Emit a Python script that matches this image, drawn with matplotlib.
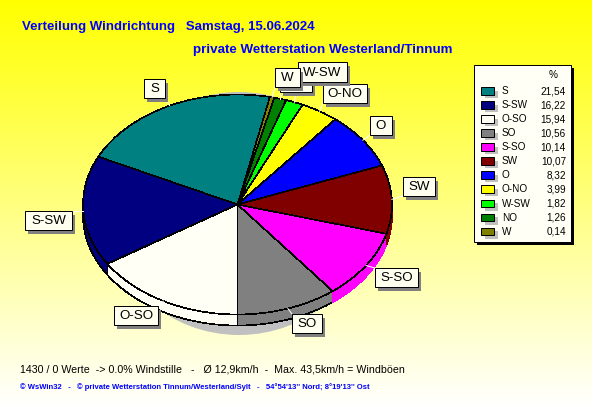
import numpy as np
import matplotlib
matplotlib.use('Agg')
import matplotlib.pyplot as plt
from matplotlib.patches import Rectangle, Ellipse

plt.rcParams['font.family'] = ['Liberation Sans', 'DejaVu Sans']

names = ['S', 'S-SW', 'O-SO', 'SO', 'S-SO', 'SW', 'O', 'O-NO', 'W-SW', 'NO', 'W']
percent = [21.54, 16.22, 15.94, 10.56, 10.14, 10.07, 8.32, 3.99, 1.82, 1.26, 0.14]
percent_text = ['21,54', '16,22', '15,94', '10,56', '10,14', '10,07', '8,32', '3,99', '1,82', '1,26', '0,14']
colors = ['#008080', '#000080', '#FFFFF5', '#808080', '#FF00FF', '#800000',
          '#0000FF', '#FFFF00', '#00FF00', '#008000', '#808000']

title1 = 'Verteilung Windrichtung   Samstag, 15.06.2024'
title2 = 'private Wetterstation Westerland/Tinnum'
info = '1430 / 0 Werte  -> 0.0% Windstille   -   Ø 12,9km/h  -  Max. 43,5km/h = Windböen'
credit = "© WsWin32   -   © private Wetterstation Tinnum/Westerland/Sylt   -   54°54'13'' Nord; 8°19'13'' Ost"

W, H = 592, 407
# pie geometry in pixels
cx, cy, rx, ry, depth = 237.5, 204.5, 154.5, 110, 11
pie_lw = 0.45

# label boxes in pixels (x0, y0, x1, y1), drawn in this order
boxes = {
    'S': (144, 79, 165, 98),
    'S-SW': (25, 211, 72, 230),
    'O-SO': (114, 306, 158, 325),
    'SO': (292, 314, 322, 333),
    'S-SO': (375, 268, 418, 287),
    'SW': (403, 177, 435, 196),
    'O': (370, 116, 392, 135),
    'O-NO': (323, 84, 367, 103),
    'NO': (280, 73, 312, 92),
    'W-SW': (298, 62, 347, 82),
    'W': (275, 68, 300, 87),
}

fig = plt.figure(figsize=(W / 100, H / 100), dpi=100)


def pixel_axes(zorder):
    a = fig.add_axes([0, 0, 1, 1], zorder=zorder)
    a.set_xlim(0, W)
    a.set_ylim(H, 0)
    a.axis('off')
    return a


# background, yellow fading to almost white
bg = pixel_axes(0)
grad = np.ones((H, 1, 3))
grad[:, 0, 2] = np.linspace(0, 1, H)
bg.imshow(grad, extent=(0, W, H, 0), aspect='auto')
bg.set_xlim(0, W)
bg.set_ylim(H, 0)
bg.add_patch(Ellipse((239, 213.5), 260, 243, fc='#C0C0C0', ec='none'))

# pie, squashed by switching off the equal aspect
ax = fig.add_axes([(cx - rx) / W, 1 - (cy + ry + depth) / H, 2 * rx / W, (2 * ry + depth) / H], zorder=1)
wedges, _ = ax.pie(percent, colors=colors, startangle=76.7, counterclock=True, radius=1,
                   wedgeprops={'edgecolor': 'black', 'linewidth': pie_lw, 'antialiased': False, 'zorder': 5})
ax.set_aspect('auto')
ax.set_xlim(-1, 1)
ax.set_ylim(-1 - depth / ry, 1)
ax.axis('off')

# the original draws the tiny W slice wider than its share, so give it a minimum width
wedges[-1].set_theta2(wedges[-1].theta2 + 1.2)
wedges[0].set_theta1(wedges[0].theta1 + 1.2)

# front rim of the pie
for name, w in zip(names, wedges):
    t1, t2 = w.theta1 % 360, w.theta2 % 360
    if t2 < t1:
        t2 += 360
    for lo, hi in [(180, 360), (540, 720)]:
        a, b = max(t1, lo), min(t2, hi)
        if b <= a:
            continue
        t = np.radians(np.linspace(a, b, 80))
        xs = np.r_[np.cos(t), np.cos(t[::-1])]
        ys = np.r_[np.sin(t), np.sin(t[::-1]) - depth / ry]
        # the magenta and red rims have no black outline in the original
        edge = w.get_facecolor() if name in ('S-SO', 'SW') else 'black'
        ax.fill(xs, ys, facecolor=w.get_facecolor(), edgecolor=edge, linewidth=pie_lw,
                antialiased=False, zorder=2, clip_on=False)

# labels, legend and texts
top = pixel_axes(2)
top.patch.set_alpha(0)

for name, w in zip(names, wedges):
    x0, y0, x1, y1 = boxes[name]
    mid = np.radians((w.theta1 + w.theta2) / 2)
    ex = cx + rx * np.cos(mid)
    ey = cy - ry * np.sin(mid)
    top.plot([ex, np.clip(ex, x0, x1)], [ey, np.clip(ey, y0, y1)], color='white', lw=0.72, zorder=3)

z = 4
for name, (x0, y0, x1, y1) in boxes.items():
    top.add_patch(Rectangle((x0 + 3, y0 + 4), x1 - x0, y1 - y0, fc='#808080', ec='none', zorder=z))
    top.add_patch(Rectangle((x0, y0), x1 - x0, y1 - y0, fc='#FFFFF0', ec='black', lw=0.72, zorder=z + 1))
    top.text((x0 + x1) / 2, (y0 + y1) / 2 + 0.5, name, ha='center', va='center', fontsize=9.6, color='black', zorder=z + 2)
    z += 3

# legend box
top.add_patch(Rectangle((477, 68), 97, 177, fc='black', ec='none', zorder=60))
top.add_patch(Rectangle((474, 65), 97, 177, fc='#FFFFF5', ec='black', lw=0.72, zorder=61))
top.text(553, 75, '%', ha='center', va='center', fontsize=7.2, zorder=62)
for i, name in enumerate(names):
    y = 91 + i * 14.07
    top.add_patch(Rectangle((485, y - 0.5), 13, 7.5, fc='#C0C0C0', ec='none', zorder=62))
    top.add_patch(Rectangle((481, y - 4), 13, 7.5, fc=colors[i], ec='black', lw=0.72, zorder=63))
    top.text(502, y, name, ha='left', va='center', fontsize=7.2, zorder=64)
    top.text(566, y, percent_text[i], ha='right', va='center', fontsize=7.2, zorder=64)

top.text(22, 30, title1, color='#0000FF', fontsize=9.5, fontweight='bold', ha='left', va='baseline')
top.text(193, 53, title2, color='#0000FF', fontsize=9.65, fontweight='bold', ha='left', va='baseline')
top.text(20, 373, info, color='black', fontsize=7.7, ha='left', va='baseline')
top.text(20, 389, credit, color='#0000FF', fontsize=5.5, fontweight='bold', ha='left', va='baseline')

fig.savefig('out.png', dpi=100)
